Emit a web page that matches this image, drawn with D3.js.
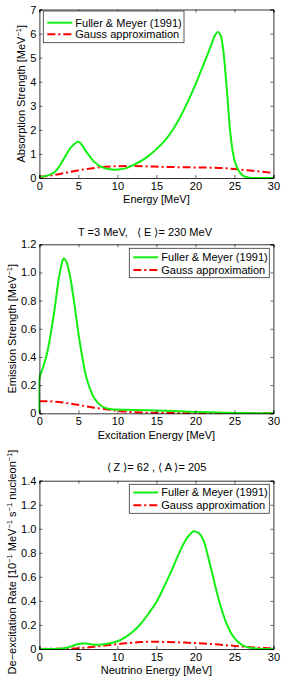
<!DOCTYPE html>
<html><head><meta charset="utf-8">
<script src="https://cdn.jsdelivr.net/npm/d3@7"></script>
<style>
body{margin:0;background:#fff;}
svg{display:block;font-family:"Liberation Sans",Arial,Helvetica,sans-serif;}
</style></head>
<body>
<svg id="c" width="283" height="679"></svg>
<script>
// Panel 1: absorption strength
const p1GreenE = [0,1,2,3,4,5,6,7,8,9,10,11,12,13,14,15,16,17,18,19,20,21,22,22.5,22.85,23.2,23.5,24,24.5,25,25.5,26,26.5,27,28,29,30];
const p1GreenV = [0.05,0.1,0.26,0.72,1.25,1.51,1.1,0.68,0.45,0.36,0.35,0.4,0.53,0.7,0.92,1.2,1.52,1.95,2.5,3.15,3.88,4.68,5.5,5.92,6.07,5.95,5.5,3.8,1.8,0.75,0.33,0.12,0.04,0.01,0,0,0];
const p1RedE = [0,2,4,6,8,10,12,14,16,18,20,22,24,26,28,30];
const p1RedV = [0.05,0.13,0.26,0.37,0.45,0.49,0.5,0.48,0.46,0.45,0.44,0.43,0.4,0.34,0.28,0.21];
// Panel 2: emission strength
const p2GreenE = [0,0.01,0.5,1,1.5,2,2.5,3,3.13,3.5,4,4.5,5,5.5,6,7,8,9,10,12,15,18,20,22,25,28,30];
const p2GreenV = [0,0.25,0.33,0.43,0.58,0.76,0.96,1.09,1.1,1.07,0.95,0.77,0.57,0.4,0.26,0.11,0.05,0.03,0.027,0.024,0.02,0.014,0.01,0.007,0.003,0.001,0];
const p2RedE = [0,1,2,3,4,5,6,7,8,9,10,11,12,14,16,20,25,30];
const p2RedV = [0.085,0.086,0.083,0.077,0.069,0.06,0.049,0.04,0.033,0.025,0.018,0.012,0.008,0.004,0.002,0.001,0,0];
// Panel 3: de-excitation rate
const p3GreenE = [0,2,3,4,5,5.5,6,7,8,9,10,11,12,13,14,15,16,17,18,19,19.8,20.5,21,22,23,24,25,26,27,28,30];
const p3GreenV = [0,0.001,0.005,0.02,0.042,0.046,0.045,0.036,0.038,0.047,0.064,0.097,0.145,0.21,0.295,0.39,0.52,0.66,0.81,0.93,0.98,0.96,0.91,0.67,0.41,0.21,0.09,0.033,0.01,0.003,0];
const p3RedE = [0,2,4,5,6,7,8,9,10,11,12,13,14,15,16,17,18,19,20,21,22,23,24,25,26,27,28,29,30];
const p3RedV = [0.001,0.002,0.004,0.007,0.012,0.018,0.026,0.034,0.041,0.047,0.053,0.058,0.06,0.06,0.059,0.057,0.055,0.052,0.049,0.046,0.042,0.037,0.031,0.026,0.02,0.015,0.011,0.008,0.006];

const xTicks = [0,5,10,15,20,25,30];
const p1YTicks = [0,1,2,3,4,5,6,7];
const p2YTicks = [0,0.2,0.4,0.6,0.8,1.0,1.2];
const p3YTicks = [0,0.2,0.4,0.6,0.8,1.0,1.2,1.4];
const legendLabels = ["Fuller & Meyer (1991)", "Gauss approximation"];

const GREEN = "#11f011", RED = "#ff0000", DASH = "8,3,2,3";
const svg = d3.select("#c");
const X0 = 39.4, X1 = 273.4;

function yFmt(d){ return d === 0 ? "0" : d3.format(".1f")(d); }

function panel(cfg){
  const x = d3.scaleLinear().domain([0,30]).range([X0,X1]);
  const y = d3.scaleLinear().domain([0,cfg.ymax]).range([cfg.bottom,cfg.top]);
  const g = svg.append("g");
  const line = d3.line().x(d=>x(d[0])).y(d=>Math.min(y(d[1]),cfg.bottom)).curve(d3.curveCatmullRom.alpha(0.5));
  const clipId = "clip"+cfg.id;
  svg.append("clipPath").attr("id",clipId).append("rect")
    .attr("x",X0-1).attr("y",cfg.top-2).attr("width",X1-X0+2).attr("height",cfg.bottom-cfg.top+3);
  const curves = g.append("g").attr("clip-path","url(#"+clipId+")");
  curves.append("path").datum(d3.zip(cfg.rE,cfg.rV)).attr("d",line)
    .attr("fill","none").attr("stroke",RED).attr("stroke-width",2).attr("stroke-dasharray",DASH);
  curves.append("path").datum(d3.zip(cfg.gE,cfg.gV)).attr("d",line)
    .attr("fill","none").attr("stroke",GREEN).attr("stroke-width",2);

  const ax = [
    g.append("g").attr("transform",`translate(0,${cfg.bottom})`).call(d3.axisBottom(x).tickValues(xTicks).tickSize(-3).tickPadding(4).tickFormat(d3.format("d"))),
    g.append("g").attr("transform",`translate(0,${cfg.top})`).call(d3.axisTop(x).tickValues(xTicks).tickSize(-3).tickFormat("")),
    g.append("g").attr("transform",`translate(${X0},0)`).call(d3.axisLeft(y).tickValues(cfg.yticks).tickSize(-3).tickPadding(3).tickFormat(cfg.yfmt)),
    g.append("g").attr("transform",`translate(${X1},0)`).call(d3.axisRight(y).tickValues(cfg.yticks).tickSize(-3).tickFormat(""))
  ];
  ax.forEach(a=>{
    a.attr("font-family",null);
    a.select(".domain").attr("stroke","#000").attr("stroke-width",0.8);
    a.selectAll(".tick line").attr("stroke","#000").attr("stroke-width",0.6);
    a.selectAll(".tick text").attr("font-size",11).attr("fill","#000");
  });

  // legend
  const L = cfg.legend;
  const lg = g.append("g");
  lg.append("rect").attr("x",L.x).attr("y",L.y).attr("width",L.w).attr("height",L.h)
    .attr("fill","#fff").attr("stroke","#333").attr("stroke-width",0.8);
  const rows = [
    {label:legendLabels[0], color:GREEN, dash:null},
    {label:legendLabels[1], color:RED, dash:DASH}
  ];
  rows.forEach((r,i)=>{
    const yy = L.y + L.r1 + i*L.dy;
    lg.append("line").attr("x1",L.x+4).attr("x2",L.x+29).attr("y1",yy).attr("y2",yy)
      .attr("stroke",r.color).attr("stroke-width",2).attr("stroke-dasharray",r.dash);
    lg.append("text").attr("x",L.x+32).attr("y",yy).attr("dy","0.35em").attr("font-size",11).text(r.label);
  });

  // x label
  g.append("text").attr("x",(X0+X1)/2).attr("y",cfg.xlabY).attr("text-anchor","middle")
    .attr("font-size",11).text(cfg.xlabel);
  // y label
  const yl = g.append("text").attr("transform",`translate(${cfg.ylabX},${cfg.ylabY || (cfg.top+cfg.bottom)/2}) rotate(-90)`)
    .attr("text-anchor","middle").attr("font-size",11);
  cfg.ylabel.forEach(p=>{
    const t = yl.append("tspan").text(p.t);
    if(p.sup){ t.attr("font-size",7.5).attr("dy",-4); }
    else if(p.after){ t.attr("dy",4); }
  });
  if(cfg.title){
    g.append("text").attr("x",cfg.titleX).attr("y",cfg.titleY).attr("text-anchor","middle")
      .attr("font-size",11).attr("xml:space","preserve").style("white-space","pre").text(cfg.title);
  }
}

panel({id:1, top:9.5, bottom:178, ymax:7, yticks:p1YTicks, yfmt:d3.format("d"),
  gE:p1GreenE, gV:p1GreenV, rE:p1RedE, rV:p1RedV,
  legend:{x:43.3,y:11,w:140.7,h:31.7,r1:11.7,dy:11.6},
  xlabel:"Energy [MeV]", xlabY:202.5, ylabX:24.5,
  ylabel:[{t:"Absorption Strength [MeV"},{t:"−1",sup:true},{t:"]",after:true}]
});
panel({id:2, top:244.3, bottom:413.3, ymax:1.2, yticks:p2YTicks, yfmt:yFmt,
  gE:p2GreenE, gV:p2GreenV, rE:p2RedE, rV:p2RedV,
  legend:{x:129.3,y:248.3,w:140,h:29.4,r1:9,dy:12.6},
  xlabel:"Excitation Energy [MeV]", xlabY:439, ylabX:16,
  ylabel:[{t:"Emission Strength [MeV"},{t:"−1",sup:true},{t:"]",after:true}],
  title:"T =3 MeV,   ⟨ E ⟩= 230 MeV", titleX:145, titleY:235.5
});
panel({id:3, top:480.7, bottom:649, ymax:1.4, yticks:p3YTicks, yfmt:yFmt,
  gE:p3GreenE, gV:p3GreenV, rE:p3RedE, rV:p3RedV,
  legend:{x:129.3,y:484.3,w:140,h:29,r1:8.2,dy:12.7},
  xlabel:"Neutrino Energy [MeV]", xlabY:674, ylabX:16, ylabY:562,
  ylabel:[{t:"De−excitation Rate [10"},{t:"−1",sup:true},{t:" MeV",after:true},{t:"−1",sup:true},{t:" s",after:true},{t:"−1",sup:true},{t:" nucleon",after:true},{t:"−1",sup:true},{t:"]",after:true}],
  title:"⟨ Z ⟩= 62 , ⟨ A ⟩= 205", titleX:156.4, titleY:470.5
});
</script>
</body></html>
